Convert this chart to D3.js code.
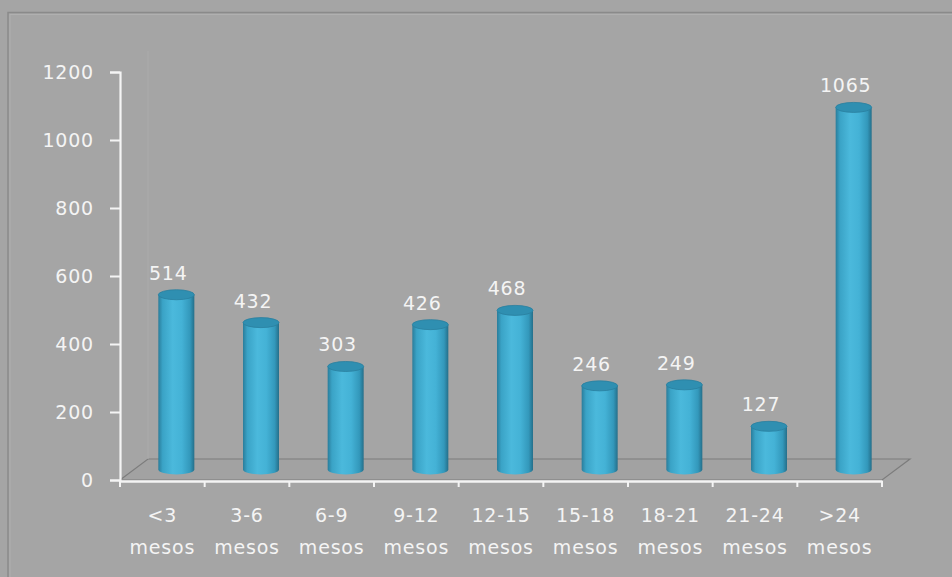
<!DOCTYPE html>
<html>
<head>
<meta charset="utf-8">
<script src="https://cdn.jsdelivr.net/npm/d3@7"></script>
<style>
  html, body { margin: 0; padding: 0; background: #a5a5a5; }
  svg { display: block; }
  text { font-family: "DejaVu Sans", Verdana, sans-serif; fill: #f4f4f4; }
</style>
</head>
<body>
<svg id="chart" width="952" height="577"></svg>
<script>
const categoriesLine1 = ["<3", "3-6", "6-9", "9-12", "12-15", "15-18", "18-21", "21-24", ">24"];
const categoriesLine2 = ["mesos", "mesos", "mesos", "mesos", "mesos", "mesos", "mesos", "mesos", "mesos"];
const values = [514, 432, 303, 426, 468, 246, 249, 127, 1065];
const yTicks = [0, 200, 400, 600, 800, 1000, 1200];

const svg = d3.select("#chart");
const W = 952, H = 577;

svg.append("rect").attr("width", W).attr("height", H).attr("fill", "#a5a5a5");
// frame border
svg.append("rect").attr("x", 8).attr("y", 12.5).attr("width", W + 20).attr("height", H + 20)
  .attr("fill", "none").attr("stroke", "#8a8a8a").attr("stroke-width", 1.5);
svg.append("rect").attr("x", 10).attr("y", 14.5).attr("width", W + 20).attr("height", H + 20)
  .attr("fill", "none").attr("stroke", "#b0b0b0").attr("stroke-width", 1);

const x = d3.scaleBand().domain(d3.range(values.length)).range([120, 882]).padding(0);
const y = d3.scaleLinear().domain([0, 1200]).range([480, 72]);
const depthX = 28, depthY = -21;
const midX = depthX / 2, midY = depthY / 2;

// floor
const y0 = y(0);
svg.append("path")
  .attr("d", `M${x.range()[0]},${y0} L${x.range()[0] + depthX},${y0 + depthY} L${x.range()[1] + depthX},${y0 + depthY} L${x.range()[1]},${y0} Z`)
  .attr("fill", "#a2a2a2").attr("stroke", "#7c7c7c").attr("stroke-width", 1.2);
// faint back wall left edge
svg.append("line").attr("x1", x.range()[0] + depthX).attr("x2", x.range()[0] + depthX)
  .attr("y1", y(1200) + depthY).attr("y2", y0 + depthY)
  .attr("stroke", "#ababab").attr("stroke-width", 1);

// gradient for cylinders
const defs = svg.append("defs");
const grad = defs.append("linearGradient").attr("id", "cyl").attr("x1", "0").attr("x2", "1").attr("y1", "0").attr("y2", "0");
[[0, "#2a7d9b"], [0.12, "#3aa3c6"], [0.4, "#4bb9dc"], [0.65, "#44b2d6"], [0.88, "#3398bb"], [1, "#256f8a"]]
  .forEach(([o, c]) => grad.append("stop").attr("offset", o).attr("stop-color", c));

const rx = 18, ry = 5;
const bars = svg.append("g").selectAll("g").data(values).join("g");
bars.each(function (v, i) {
  const g = d3.select(this);
  const cx = x(i) + x.bandwidth() / 2 + midX;
  const yb = y(0) + midY;
  const yt = y(v) + midY;
  g.append("path")
    .attr("d", `M${cx - rx},${yt} L${cx - rx},${yb} A${rx},${ry} 0 0 0 ${cx + rx},${yb} L${cx + rx},${yt} Z`)
    .attr("fill", "url(#cyl)");
  g.append("ellipse").attr("cx", cx).attr("cy", yt).attr("rx", rx).attr("ry", ry)
    .attr("fill", "#2f8fb1").attr("stroke", "#2a7f9e").attr("stroke-width", 0.8);
  g.append("text").attr("x", cx - 8).attr("y", yt - 15)
    .attr("text-anchor", "middle").attr("font-size", 19).attr("letter-spacing", 0.8)
    .text(v);
});

// y axis
const yAxis = d3.axisLeft(y).tickValues(yTicks).tickFormat(d3.format("d")).tickSize(10).tickPadding(16);
const gy = svg.append("g").attr("transform", "translate(120,0)").call(yAxis);
gy.select(".domain").attr("stroke", "#f4f4f4").attr("stroke-width", 2.2);
gy.selectAll(".tick line").attr("stroke", "#f4f4f4").attr("stroke-width", 2);
gy.selectAll(".tick text").attr("font-size", 19).attr("letter-spacing", 0.8)
  .attr("font-family", "DejaVu Sans").attr("fill", "#f4f4f4");

// x axis
const xAxis = d3.axisBottom(x).tickSize(0).tickFormat(() => "");
const gx = svg.append("g").attr("transform", `translate(0,${y0 + 1})`).call(xAxis);
gx.select(".domain").attr("stroke", "#f4f4f4").attr("stroke-width", 2.4);
const bounds = d3.range(values.length + 1).map(i => i < values.length ? x(i) : x.range()[1]);
gx.selectAll(".btick").data(bounds).join("line").attr("class", "btick")
  .attr("x1", d => d).attr("x2", d => d).attr("y1", 0).attr("y2", 6)
  .attr("stroke", "#f4f4f4").attr("stroke-width", 2);

const lbl = svg.append("g").selectAll("text").data(categoriesLine1).join("text")
  .attr("x", (d, i) => x(i) + x.bandwidth() / 2)
  .attr("y", 522)
  .attr("text-anchor", "middle").attr("font-size", 19).attr("letter-spacing", 0.8);
lbl.append("tspan").text(d => d);
lbl.append("tspan").attr("x", (d, i) => x(i) + x.bandwidth() / 2).attr("dy", 32)
  .text((d, i) => categoriesLine2[i]);
</script>
</body>
</html>
